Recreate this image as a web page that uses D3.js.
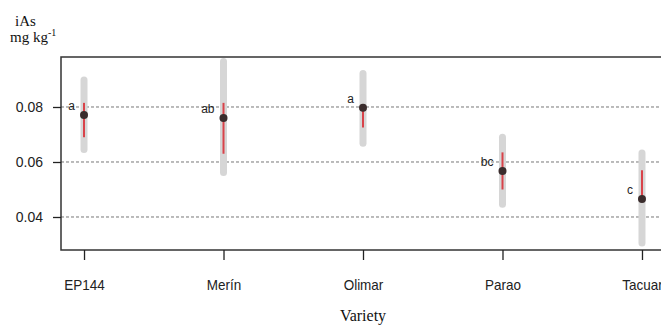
<!DOCTYPE html>
<html>
<head>
<meta charset="utf-8">
<script src="https://cdn.jsdelivr.net/npm/d3@7"></script>
<style>
  body { margin: 0; background: #fff; }
  svg { display: block; }
</style>
</head>
<body>
<div class="chart"></div>
<script>
// data
const varieties = ["EP144", "Merín", "Olimar", "Parao", "Tacuar"];
const means     = [0.0771, 0.0760, 0.0797, 0.0567, 0.0465];
const redLow    = [0.0690, 0.0630, 0.0725, 0.0500, 0.0465];
const redHigh   = [0.0815, 0.0815, 0.0800, 0.0635, 0.0570];
const grayLow   = [0.0645, 0.0562, 0.0668, 0.0446, 0.0305];
const grayHigh  = [0.0898, 0.0965, 0.0922, 0.0690, 0.0633];
const groups    = ["a", "ab", "a", "bc", "c"];
const yTicks    = [0.04, 0.06, 0.08];

const data = varieties.map((v, i) => ({
    name: v, mean: means[i],
    rlo: redLow[i], rhi: redHigh[i],
    glo: grayLow[i], ghi: grayHigh[i],
    grp: groups[i]
}));

const W = 661, H = 335;
const plot = {left: 61, right: 665, top: 57, bottom: 250};

const svg = d3.select(".chart").append("svg")
    .attr("width", W)
    .attr("height", H);

const xScale = d3.scalePoint()
    .domain(varieties)
    .range([plot.left, plot.right])
    .padding(0.165);

const yScale = d3.scaleLinear()
    .domain([0.028, 0.09818])
    .range([plot.bottom, plot.top]);

// gridlines
svg.append("g")
    .selectAll("line")
    .data(yTicks)
    .join("line")
    .attr("x1", plot.left)
    .attr("x2", plot.right)
    .attr("y1", d => yScale(d))
    .attr("y2", d => yScale(d))
    .attr("stroke", "#777")
    .attr("stroke-width", 1)
    .attr("stroke-dasharray", "3,2");

// box
svg.append("rect")
    .attr("x", plot.left)
    .attr("y", plot.top)
    .attr("width", plot.right - plot.left)
    .attr("height", plot.bottom - plot.top)
    .attr("fill", "none")
    .attr("stroke", "#333")
    .attr("stroke-width", 1.5);

//Axis
const yAxis = d3.axisLeft(yScale)
    .tickValues(yTicks)
    .tickFormat(d3.format(".2f"))
    .tickSize(8)
    .tickPadding(10);
svg.append("g")
    .attr("transform", "translate(" + plot.left + ",0)")
    .call(yAxis)
    .call(g => g.select(".domain").remove())
    .call(g => g.selectAll(".tick line").attr("stroke", "#222").attr("stroke-width", 1.3))
    .call(g => g.selectAll(".tick text")
        .attr("font-family", "'Liberation Sans', Arial, sans-serif")
        .attr("font-size", 14)
        .attr("fill", "#222"));

const xAxis = d3.axisBottom(xScale)
    .tickSize(10)
    .tickPadding(19);
svg.append("g")
    .attr("transform", "translate(0," + plot.bottom + ")")
    .call(xAxis)
    .call(g => g.select(".domain").remove())
    .call(g => g.selectAll(".tick line").attr("stroke", "#222").attr("stroke-width", 1.3))
    .call(g => g.selectAll(".tick text")
        .attr("font-family", "'Liberation Sans', Arial, sans-serif")
        .attr("font-size", 15)
        .attr("transform", "scale(0.9,1)")
        .attr("fill", "#222"));

// marks
const marks = svg.append("g");
marks.selectAll(".gray")
    .data(data)
    .join("line")
    .attr("class", "gray")
    .attr("x1", d => xScale(d.name))
    .attr("x2", d => xScale(d.name))
    .attr("y1", d => yScale(d.glo))
    .attr("y2", d => yScale(d.ghi))
    .attr("stroke", "#d6d6d6")
    .attr("stroke-width", 7)
    .attr("stroke-linecap", "round");

marks.selectAll(".red")
    .data(data)
    .join("line")
    .attr("class", "red")
    .attr("x1", d => xScale(d.name))
    .attr("x2", d => xScale(d.name))
    .attr("y1", d => yScale(d.rlo))
    .attr("y2", d => yScale(d.rhi))
    .attr("stroke", "#d9434a")
    .attr("stroke-width", 2);

marks.selectAll("circle")
    .data(data)
    .join("circle")
    .attr("cx", d => xScale(d.name))
    .attr("cy", d => yScale(d.mean))
    .attr("r", 4)
    .attr("fill", "#3a2c2c");

//Labels
marks.selectAll(".labels")
    .data(data)
    .join("text")
    .attr("class", "labels")
    .attr("x", d => xScale(d.name) - 9)
    .attr("y", d => yScale(d.mean) - 5)
    .attr("text-anchor", "end")
    .attr("font-family", "'Liberation Sans', Arial, sans-serif")
    .attr("font-size", 12)
    .attr("fill", "#222")
    .text(d => d.grp);

// titles
const title = svg.append("text")
    .attr("font-family", "'Liberation Serif', 'Times New Roman', serif")
    .attr("font-size", 15)
    .attr("fill", "#111");
title.append("tspan").attr("x", 15).attr("y", 26).text("iAs");
title.append("tspan").attr("x", 10).attr("y", 42).text("mg kg");
title.append("tspan").attr("dy", -6).attr("font-size", 10).text("-1");

svg.append("text")
    .attr("x", (plot.left + plot.right) / 2)
    .attr("y", 321)
    .attr("text-anchor", "middle")
    .attr("font-family", "'Liberation Serif', 'Times New Roman', serif")
    .attr("font-size", 16)
    .attr("fill", "#111")
    .text("Variety");
</script>
</body>
</html>
